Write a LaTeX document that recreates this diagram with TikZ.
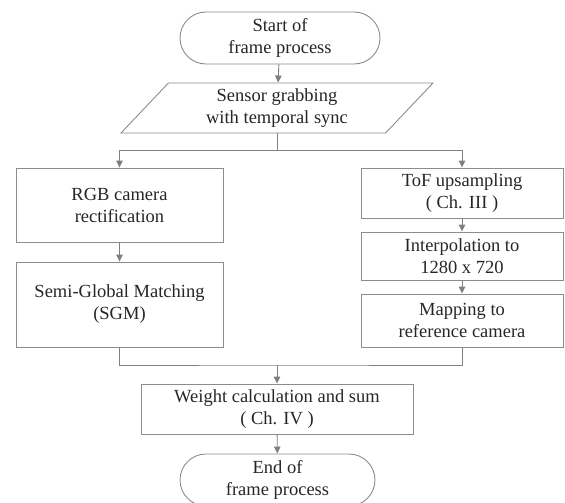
\documentclass[tikz,border=0pt]{standalone}
\usepackage{fontspec}
\setmainfont{Liberation Serif}
\usetikzlibrary{shapes.geometric, shapes.misc, arrows.meta}

\tikzset{
  stepbox/.style={rectangle, draw=black!45, line width=0.9pt, inner sep=0pt,
    align=center, text=black!85, font=\fontsize{18.5}{22}\selectfont},
  termbox/.style={stepbox, rounded rectangle},
  iobox/.style={stepbox, trapezium, trapezium left angle=39.3,
    trapezium right angle=140.7, trapezium stretches body},
  link/.style={draw=black!50, line width=0.9pt},
  flow/.style={link, -{Triangle[length=7pt, width=6.5pt]}}
}

\begin{document}
\begin{tikzpicture}[x=1pt, y=-1pt]
  \useasboundingbox (0,0) rectangle (565,503);

  % Start and sensor input
  \node[termbox, minimum width=200pt, minimum height=52pt] (start) at (280,38) {Start of\\frame process};
  \node[iobox, minimum width=312pt, minimum height=50pt] (grab) at (277,108) {Sensor grabbing\\with temporal sync};

  % Left branch (RGB)
  \node[stepbox, minimum width=207pt, minimum height=74pt] (rgb) at (119.5,205) {RGB camera\\rectification};
  \node[stepbox, minimum width=207pt, minimum height=85pt] (sgm) at (119.5,304.5) {Semi-Global Matching\\(SGM)};

  % Right branch (ToF)
  \node[stepbox, minimum width=202pt, minimum height=50pt] (tof) at (462,193) {ToF upsampling\\( Ch. III )};
  \node[stepbox, minimum width=202pt, minimum height=48pt] (interp) at (462,256) {Interpolation to\\1280 x 720};
  \node[stepbox, minimum width=202pt, minimum height=53pt] (mapref) at (462,320.5) {Mapping to\\reference camera};

  % Fusion and end
  \node[stepbox, minimum width=272pt, minimum height=50pt] (weight) at (277,409) {Weight calculation and sum\\( Ch. IV )};
  \node[termbox, minimum width=195pt, minimum height=52pt] (stop) at (277.5,480) {End of\\frame process};

  \coordinate (split) at (277,150);
  \coordinate (merge) at (277,365);

  % Connectors
  \draw[flow] (start) -- (grab);
  \draw[link] (grab) -- (split);
  \draw[flow] (split) -| (rgb.north);
  \draw[flow] (split) -| (tof.north);
  \draw[flow] (rgb) -- (sgm);
  \draw[flow] (tof) -- (interp);
  \draw[flow] (interp) -- (mapref);
  \draw[link] (sgm.south) |- (merge) -| (mapref.south);
  \draw[flow] (merge) -- (weight);
  \draw[flow] (weight) -- (stop);
\end{tikzpicture}
\end{document}
